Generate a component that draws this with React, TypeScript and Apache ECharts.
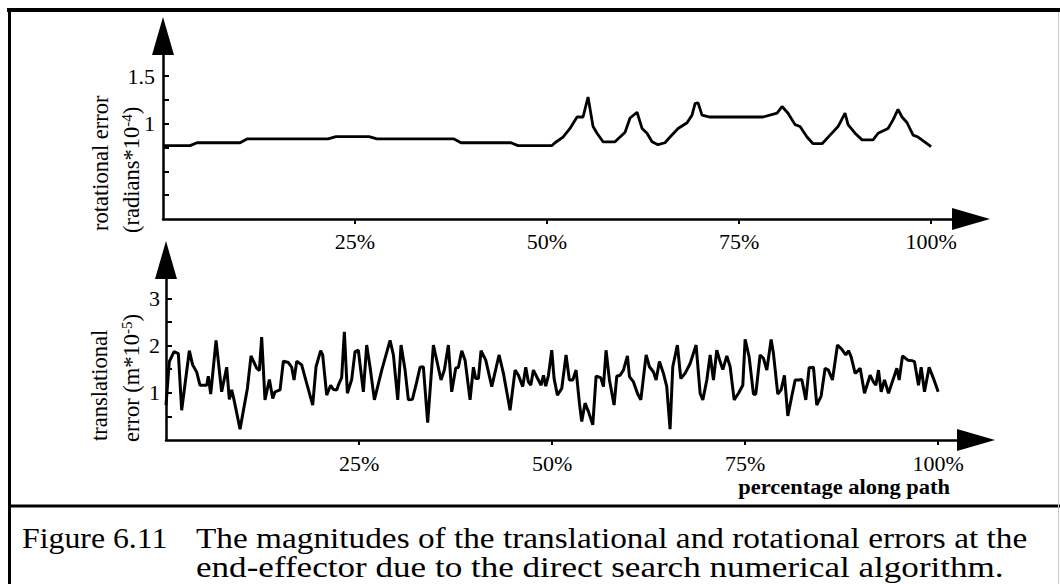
import React, { useEffect, useRef } from "react";
import * as echarts from "echarts";

// Rotational error along the path (radians * 1e-4)
const rotPct = [
  0, 3.52, 4.43, 10.03, 10.94, 21.48, 22.53, 26.82, 27.86, 37.89,
  38.8, 45.31, 46.22, 50.65, 51.04, 52.08, 52.99, 53.91, 54.69, 55.34,
  55.99, 56.51, 57.29, 58.85, 60.16, 60.81, 61.72, 62.37, 63.02, 63.67,
  64.45, 65.36, 66.02, 67.06, 68.23, 68.88, 69.27, 69.66, 70.18, 71.22,
  78.13, 79.95, 80.6, 81.38, 82.29, 82.94, 83.85, 84.64, 85.81, 86.85,
  87.89, 88.8, 89.19, 90.1, 91.02, 92.45, 93.1, 94.4, 95.05, 95.7,
  96.22, 96.88, 97.66, 98.31, 100,
];
const rotVal = [
  0.77, 0.77, 0.8, 0.8, 0.84, 0.84, 0.865, 0.865, 0.84, 0.84,
  0.8, 0.8, 0.77, 0.77, 0.8, 0.86, 0.95, 1.07, 1.07, 1.28,
  0.97, 0.9, 0.81, 0.81, 0.91, 1.06, 1.12, 0.95, 0.9, 0.81,
  0.78, 0.8, 0.86, 0.95, 1.01, 1.09, 1.21, 1.22, 1.09, 1.07,
  1.07, 1.11, 1.18, 1.11, 0.99, 0.97, 0.86, 0.79, 0.79, 0.88,
  0.97, 1.11, 0.99, 0.9, 0.83, 0.83, 0.9, 0.95, 1.04, 1.15,
  1.07, 1.01, 0.88, 0.86, 0.76,
];

// Translational error along the path (m * 1e-5)
const transPct = [
  0, 0.43, 1.04, 1.6, 2.03, 3.02, 3.45, 3.97, 4.4, 5.27,
  5.48, 5.79, 6.48, 7.21, 7.86, 8.2, 8.51, 8.81, 9.59, 10.54,
  11.01, 11.74, 12.09, 12.39, 12.82, 13.39, 13.82, 14.12, 14.77, 15.2,
  15.85, 16.28, 16.58, 16.93, 17.57, 18.22, 19.0, 19.43, 20.03, 20.29,
  20.81, 21.33, 21.68, 22.11, 22.32, 22.75, 23.1, 23.49, 24.05, 24.48,
  24.91,
  25.56, 25.99, 26.42, 26.99, 27.94, 29.02, 29.45, 30.01, 30.44, 30.96,
  31.39, 31.91, 32.47, 32.9, 33.33, 33.89, 34.63, 35.62, 36.05, 36.57,
  37.0, 37.52, 37.87, 38.3, 38.73, 39.38, 39.81, 40.11, 40.46, 40.8,
  41.41, 42.19, 43.13, 43.7, 44.56, 45.21, 45.64, 46.2, 46.59, 46.93,
  47.24, 47.58, 48.01, 48.58, 48.88, 49.18, 49.53, 49.96,
  50.26, 50.69, 51.25, 51.81, 52.24, 52.68, 53.11, 53.54, 53.84, 54.27,
  54.71, 55.27, 55.7, 56.3, 56.65, 56.99, 57.43, 58.03, 58.38, 58.81,
  59.24, 59.76, 60.02, 60.54, 61.05, 61.49, 62.18, 62.61, 63.13, 63.47,
  63.9, 64.42, 64.85, 65.28, 65.63, 66.23, 66.67, 67.23, 67.88, 68.65,
  69.17, 69.52, 70.04, 70.47, 70.9, 71.33, 71.76, 72.11, 72.63, 73.06,
  73.58, 74.14, 74.7, 75.0,
  75.52, 76.08, 76.38, 76.94, 77.37, 77.81, 78.37, 78.67, 79.23, 79.66,
  80.09, 80.53, 81.05, 81.48, 81.91, 82.34, 82.86, 83.29, 83.85, 84.28,
  84.84, 85.36, 85.79, 86.31, 86.96, 87.52, 88.04, 88.39, 88.73, 89.25,
  89.68, 89.9, 90.46, 91.19, 91.62, 91.93, 92.27, 92.62, 93.05, 93.57,
  94.0, 94.65, 94.95, 95.38, 96.07, 96.59, 96.93, 97.45, 97.8, 98.23,
  98.83, 99.4, 100,
];
const transVal = [
  0.74, 1.66, 1.87, 1.83, 0.63, 1.89, 1.59, 1.44, 1.16, 1.16,
  1.35, 0.97, 2.11, 1.02, 1.54, 0.86, 1.06, 0.85, 0.23, 1.09,
  1.78, 1.52, 1.47, 2.18, 0.85, 1.28, 0.88, 1.02, 1.06, 1.67,
  1.64, 1.54, 1.27, 1.67, 1.59, 1.2, 0.74, 1.55, 1.89, 1.8,
  0.95, 1.16, 1.07, 1.06, 1.16, 1.32, 2.29, 0.99, 1.28, 1.87,
  1.9,
  1.02, 2.01, 1.55, 0.85, 1.48, 2.11, 1.8, 0.85, 2.01, 1.48,
  0.85, 0.86, 1.23, 1.54, 1.55, 0.37, 2.01, 1.27, 1.48, 2.01,
  1.02, 1.52, 1.54, 1.89, 1.69, 0.85, 1.54, 1.3, 1.3, 1.89,
  1.69, 1.13, 1.8, 1.41, 0.63, 1.48, 1.37, 1.13, 1.54, 1.23,
  1.16, 1.48, 1.34, 1.16, 1.37, 1.14, 1.37, 1.9,
  1.3, 0.95, 1.09, 1.8, 1.27, 1.27, 1.48, 0.78, 0.39, 0.78,
  0.6, 0.32, 1.35, 1.32, 1.13, 1.9, 1.27, 0.74, 1.35, 1.37,
  1.48, 1.78, 1.34, 1.23, 0.99, 0.85, 1.8, 1.55, 1.44, 1.27,
  1.66, 1.41, 1.13, 0.23, 1.55, 2.01, 1.3, 1.41, 1.62, 2.01,
  0.99, 0.85, 1.27, 1.8, 1.27, 1.9, 1.66, 1.49, 1.78, 1.55,
  0.85, 0.99, 1.16, 2.13,
  1.76, 0.97, 0.97, 1.8, 1.73, 1.48, 2.13, 1.83, 0.97, 1.06,
  1.37, 0.51, 0.93, 1.27, 1.27, 1.28, 0.85, 1.53, 1.54, 0.74,
  0.93, 1.52, 1.48, 1.27, 2.01, 1.92, 1.8, 1.89, 1.76, 1.41,
  1.48, 1.52, 0.99, 1.37, 1.23, 1.16, 1.48, 1.02, 1.27, 0.99,
  1.2, 1.52, 1.27, 1.78, 1.69, 1.68, 1.66, 1.16, 1.54, 1.02,
  1.54, 1.3, 1.02,
];

const xTicks = [25, 50, 75, 100];
const rotTicks = [0.25, 0.5, 0.75, 1, 1.25, 1.5];
const rotLabels = [1, 1.5];
const transTicks = [0.5, 1, 1.5, 2, 2.5, 3];
const transLabels = [1, 2, 3];

const FONT = '"Liberation Serif", "Times New Roman", serif';

export default function App() {
  const ref = useRef<HTMLDivElement>(null);

  useEffect(() => {
    const chart = echarts.init(ref.current!, null, { renderer: "svg" });

    const axisLine = {
      lineStyle: { color: "#000", width: 2.5 },
      symbol: ["none", "triangle"],
      symbolSize: [22, 38],
    };
    const xAxisFor = (gridIndex: number, max: number, margin: number) => ({
      type: "value",
      gridIndex,
      min: 0,
      max,
      axisLine,
      axisTick: { customValues: xTicks, length: 5, lineStyle: { color: "#000", width: 2 } },
      axisLabel: {
        customValues: xTicks,
        formatter: (v: number) => `${v}%`,
        color: "#000",
        fontFamily: FONT,
        fontSize: 22,
        margin,
      },
      splitLine: { show: false },
    });
    const yAxisFor = (gridIndex: number, max: number, ticks: number[], labels: number[], margin: number) => ({
      type: "value",
      gridIndex,
      min: 0,
      max,
      axisLine,
      axisTick: { customValues: ticks, inside: true, length: 6, lineStyle: { color: "#000", width: 2 } },
      axisLabel: {
        customValues: labels,
        formatter: (v: number) => String(v),
        color: "#000",
        fontFamily: FONT,
        fontSize: 22,
        margin,
      },
      splitLine: { show: false },
    });

    const rotData = rotPct.map((p, i) => [p, rotVal[i]]);
    const transData = transPct.map((p, i) => [p, transVal[i]]);

    const supRich = {
      s: { fontFamily: FONT, fontSize: 15, lineHeight: 15, verticalAlign: "top", fill: "#000" },
    };
    const vTitle = (x: number, y: number, text: string) => ({
      type: "text",
      x,
      y,
      rotation: Math.PI / 2,
      style: {
        text,
        fill: "#000",
        fontFamily: FONT,
        fontSize: 22.5,
        lineHeight: 24,
        textAlign: "left",
        textVerticalAlign: "middle",
        rich: supRich,
      },
    });
    const caption = (x: number, y: number, text: string, scaleX: number) => ({
      type: "text",
      x,
      y,
      scaleX,
      style: {
        text,
        fill: "#000",
        fontFamily: FONT,
        fontSize: 30,
        textAlign: "left",
        textVerticalAlign: "middle",
      },
    });

    chart.setOption({
      animation: false,
      backgroundColor: "#fff",
      grid: [
        { left: 163, top: 36, width: 808, height: 183 },
        { left: 166, top: 260, width: 810, height: 180 },
      ],
      xAxis: [xAxisFor(0, 105.2, 11), xAxisFor(1, 104.9, 12)],
      yAxis: [
        yAxisFor(0, 1.92, rotTicks, rotLabels, 8),
        yAxisFor(1, 3.81, transTicks, transLabels, 6),
      ],
      series: [
        {
          type: "line",
          xAxisIndex: 0,
          yAxisIndex: 0,
          data: rotData,
          showSymbol: false,
          lineStyle: { color: "#000", width: 2.8 },
        },
        {
          type: "line",
          xAxisIndex: 1,
          yAxisIndex: 1,
          data: transData,
          showSymbol: false,
          lineStyle: { color: "#000", width: 3 },
        },
      ],
      graphic: [
        { type: "line", shape: { x1: 7, y1: 10, x2: 1060, y2: 10 }, style: { stroke: "#000", lineWidth: 4 } },
        { type: "line", shape: { x1: 9.5, y1: 8, x2: 9.5, y2: 584 }, style: { stroke: "#000", lineWidth: 3 } },
        { type: "line", shape: { x1: 8, y1: 506, x2: 1060, y2: 506 }, style: { stroke: "#000", lineWidth: 3 } },
        { type: "line", shape: { x1: 1058.5, y1: 12, x2: 1058.5, y2: 584 }, style: { stroke: "#c8c8c8", lineWidth: 1 } },
        vTitle(100, 231, "rotational error"),
        vTitle(131, 233, "(radians*10{s|-4})"),
        vTitle(99, 441, "translational"),
        vTitle(131, 442, "error (m*10{s|-5})"),
        {
          type: "text",
          x: 950,
          y: 487,
          scaleX: 1.07,
          style: {
            text: "percentage along path",
            fill: "#000",
            fontFamily: FONT,
            fontSize: 21,
            fontWeight: "bold",
            textAlign: "right",
            textVerticalAlign: "middle",
          },
        },
        caption(22, 538, "Figure 6.11", 1.06),
        caption(196, 538, "The magnitudes of the translational and rotational errors at the", 1.11),
        caption(196, 567, "end-effector due to the direct search numerical algorithm.", 1.17),
      ],
    });

    return () => chart.dispose();
  }, []);

  return (
    <div
      ref={ref}
      style={{ position: "fixed", left: 0, top: 0, width: 1060, height: 584, background: "#fff" }}
    />
  );
}
